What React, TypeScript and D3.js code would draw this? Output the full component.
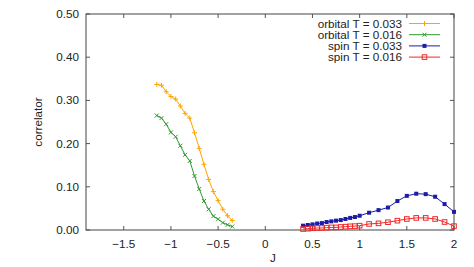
import * as d3 from 'd3';
import React from 'react';

// J values
const orbitalJ = [-1.15, -1.1, -1.05, -1.0, -0.95, -0.9, -0.85, -0.8, -0.75, -0.7, -0.65, -0.6, -0.55, -0.5, -0.45, -0.4, -0.35];
const spinJ = [0.4, 0.45, 0.5, 0.55, 0.6, 0.65, 0.7, 0.75, 0.8, 0.85, 0.9, 0.95, 1.0, 1.1, 1.2, 1.3, 1.4, 1.5, 1.6, 1.7, 1.8, 1.9, 2.0];

const orbital033 = [0.337, 0.335, 0.32, 0.309, 0.303, 0.287, 0.27, 0.259, 0.225, 0.189, 0.152, 0.117, 0.089, 0.068, 0.048, 0.033, 0.022];
const orbital016 = [0.265, 0.259, 0.245, 0.226, 0.216, 0.195, 0.174, 0.16, 0.125, 0.095, 0.067, 0.048, 0.032, 0.025, 0.017, 0.012, 0.008];
const spin033 = [0.01, 0.0116, 0.013, 0.015, 0.016, 0.0185, 0.02, 0.0216, 0.023, 0.0255, 0.028, 0.03, 0.033, 0.04, 0.046, 0.052, 0.067, 0.079, 0.084, 0.083, 0.077, 0.06, 0.042];
const spin016 = [0.0023, 0.003, 0.004, 0.0046, 0.0046, 0.0054, 0.006, 0.006, 0.007, 0.0077, 0.0085, 0.009, 0.01, 0.014, 0.0154, 0.018, 0.0216, 0.0255, 0.028, 0.028, 0.0255, 0.0185, 0.009];

const xTicks = [-1.5, -1, -0.5, 0, 0.5, 1, 1.5, 2];
const yTicks = [0, 0.1, 0.2, 0.3, 0.4, 0.5];

type Series = { name: string; xs: number[]; ys: number[]; color: string; marker: 'plus' | 'cross' | 'fsquare' | 'osquare' };

const series: Series[] = [
  { name: 'orbital T = 0.033', xs: orbitalJ, ys: orbital033, color: '#ffa500', marker: 'plus' },
  { name: 'orbital T = 0.016', xs: orbitalJ, ys: orbital016, color: '#2e9a2e', marker: 'cross' },
  { name: 'spin T = 0.033', xs: spinJ, ys: spin033, color: '#1c1ca8', marker: 'fsquare' },
  { name: 'spin T = 0.016', xs: spinJ, ys: spin016, color: '#f02828', marker: 'osquare' },
];

const W = 474, H = 267;
const m = { left: 86, right: 20, top: 14, bottom: 37 };
const FS = 11.7;

const Marker: React.FC<{ type: Series['marker']; x: number; y: number; color: string }> = ({ type, x, y, color }) => {
  if (type === 'plus') {
    return <path d={`M${x - 2.5},${y}H${x + 2.5}M${x},${y - 2.5}V${y + 2.5}`} stroke={color} strokeWidth={1} />;
  }
  if (type === 'cross') {
    return <path d={`M${x - 2},${y - 2}L${x + 2},${y + 2}M${x - 2},${y + 2}L${x + 2},${y - 2}`} stroke={color} strokeWidth={1} />;
  }
  if (type === 'fsquare') {
    return <rect x={x - 2} y={y - 2} width={4} height={4} fill={color} />;
  }
  return <rect x={x - 2.3} y={y - 2.3} width={4.6} height={4.6} fill="none" stroke={color} strokeWidth={1} />;
};

export default function App() {
  const x = d3.scaleLinear().domain([-1.9, 2]).range([m.left, W - m.right]);
  const y = d3.scaleLinear().domain([0, 0.5]).range([H - m.bottom, m.top]);
  const font = 'Liberation Sans, Arial, sans-serif';
  const x0 = m.left, x1 = W - m.right, y0 = H - m.bottom, y1 = m.top;

  return (
    <svg width={W} height={H} style={{ position: 'absolute', left: 0, top: 0 }} fontFamily={font}>
      <rect width={W} height={H} fill="#fff" />
      {/* ticks, mirrored on both sides */}
      {xTicks.map(t => (
        <g key={'x' + t}>
          <line x1={x(t)} x2={x(t)} y1={y0} y2={y0 - 4} stroke="#555" />
          <line x1={x(t)} x2={x(t)} y1={y1} y2={y1 + 4} stroke="#555" />
          <text x={x(t)} y={y0 + 18} fontSize={FS} textAnchor="middle" fill="#222">
            {t < 0 ? '\u2212' + Math.abs(t) : String(t)}
          </text>
        </g>
      ))}
      {yTicks.map(t => (
        <g key={'y' + t}>
          <line x1={x0} x2={x0 + 4} y1={y(t)} y2={y(t)} stroke="#555" />
          <line x1={x1} x2={x1 - 4} y1={y(t)} y2={y(t)} stroke="#555" />
          <text x={x0 - 7} y={y(t) + 4} fontSize={FS} textAnchor="end" fill="#222">{t.toFixed(2)}</text>
        </g>
      ))}
      <rect x={x0} y={y1} width={x1 - x0} height={y0 - y1} fill="none" stroke="#444" strokeWidth={1} />
      <text x={(x0 + x1) / 2 + 3} y={H - 5} fontSize={FS} textAnchor="middle" fill="#222">J</text>
      <text transform={`translate(42,${(y0 + y1) / 2}) rotate(-90)`} fontSize={FS} textAnchor="middle" fill="#222">correlator</text>

      {series.map(s => {
        const pts = s.xs.map((v, i) => [x(v), y(s.ys[i])] as [number, number]);
        return (
          <g key={s.name}>
            <path d={d3.line()(pts) ?? ''} fill="none" stroke={s.color} strokeWidth={1} />
            {pts.map((p, i) => <Marker key={i} type={s.marker} x={p[0]} y={p[1]} color={s.color} />)}
          </g>
        );
      })}

      {series.map((s, i) => {
        const ly = 23.5 + i * 11.2;
        return (
          <g key={'lg' + s.name}>
            <text x={402} y={ly + 4} fontSize={FS} textAnchor="end" fill="#222">{s.name}</text>
            <line x1={409} x2={440} y1={ly} y2={ly} stroke={s.color} strokeWidth={1} />
            <Marker type={s.marker} x={424.5} y={ly} color={s.color} />
          </g>
        );
      })}
    </svg>
  );
}
